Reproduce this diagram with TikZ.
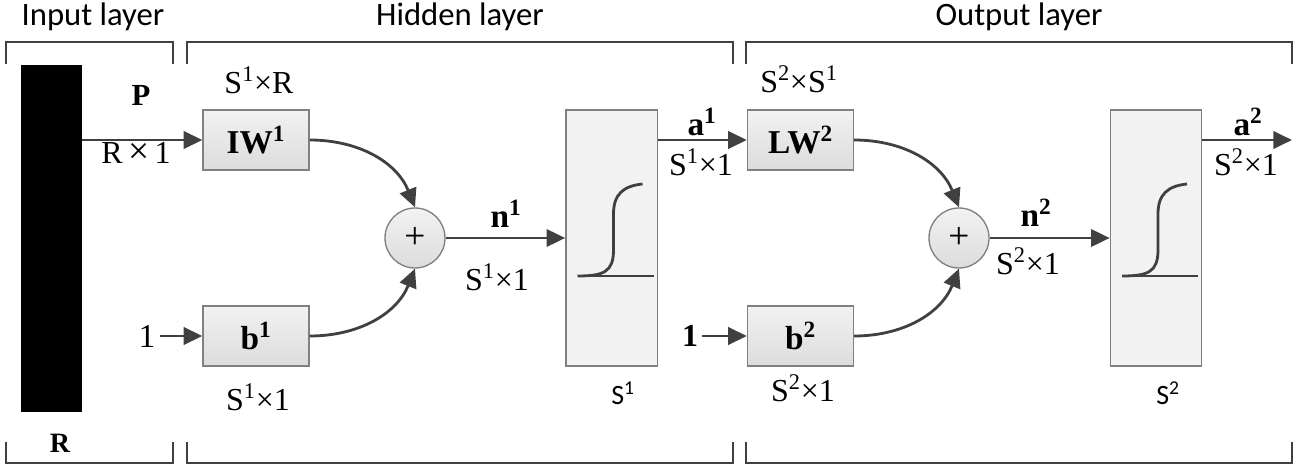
\documentclass[tikz,border=0pt]{standalone}
\usepackage{fontspec}
\setmainfont{Liberation Serif}
\newfontfamily\labfont{Carlito}
\usetikzlibrary{arrows.meta,shapes.geometric}
\definecolor{ln}{HTML}{404040}
\definecolor{bd}{HTML}{808080}
\definecolor{fl}{HTML}{F2F2F2}
\definecolor{fd}{HTML}{DCDCDC}
\begin{document}
\begin{tikzpicture}[x=0.75pt,y=-0.75pt,
  wbox/.style={draw=bd, line width=1pt, top color=fl, bottom color=fd, minimum width=79.5pt, minimum height=45pt, inner sep=0pt, font=\fontsize{25}{28}\selectfont\bfseries},
  tbox/.style={draw=bd, line width=1pt, fill=fl, minimum width=68.5pt, minimum height=192pt, inner sep=0pt},
  sumc/.style={circle, draw=bd, line width=1pt, top color=fl, bottom color=fd, minimum size=45pt, inner sep=0pt, font=\fontsize{28}{30}\selectfont},
  arr/.style={draw=ln, line width=2.1pt, -{Triangle[length=14pt,width=13pt]}},
  brk/.style={draw=ln, line width=2.2pt},
  sig/.style={draw=ln, line width=2.1pt},
  dim/.style={font=\fontsize{24}{28}\selectfont, inner sep=0pt},
  var/.style={font=\fontsize{25}{28}\selectfont\bfseries, inner sep=0pt},
  lay/.style={font=\labfont\fontsize{24.5}{28}\selectfont, inner sep=0pt},
  sdim/.style={font=\labfont\fontsize{21}{24}\selectfont, inner sep=0pt},
  onel/.style={inner xsep=3pt, inner ysep=0pt, font=\fontsize{25}{28}\selectfont}
]
\useasboundingbox (0,0) rectangle (1297,467);

% layer labels
\node[lay] (lin) at (93,17) {Input layer};
\node[lay] (lhid) at (460,17) {Hidden layer};
\node[lay] (lout) at (1019,17) {Output layer};

% brackets
\draw[brk] (6,64) -- (6,42) -- (173,42) -- (173,64);
\draw[brk] (187,64) -- (187,42) -- (733,42) -- (733,64);
\draw[brk] (746,64) -- (746,42) -- (1292,42) -- (1292,64);
\draw[brk] (6,442) -- (6,463) -- (173,463) -- (173,442);
\draw[brk] (187,442) -- (187,463) -- (733,463) -- (733,442);
\draw[brk] (746,442) -- (746,463) -- (1292,463) -- (1292,442);

% input bar
\node[fill=black, minimum width=45.75pt, minimum height=260pt, inner sep=0pt] (bar) at (51.5,238.5) {};
\node[var, font=\fontsize{21}{24}\selectfont\bfseries] (rlab) at (60,443) {R};

% hidden layer
\node[wbox] (iw) at (256,140) {IW\textsuperscript{1}};
\node[wbox] (b1) at (256,336) {b\textsuperscript{1}};
\node[sumc] (sum1) at (415,238) {+};
\node[tbox] (tf1) at (611.5,238) {};
\node[onel] (one1) at (147,336) {1};

\node[var, font=\fontsize{23}{26}\selectfont\bfseries] (plab) at (141,95) {P};
\node[dim] (pdim) at (136,153) {R\,{\fontsize{28}{28}\selectfont×}\,1};
\node[dim] (iwdim) at (259,80) {S\textsuperscript{1}×R};
\node[dim] (b1dim) at (258,397) {S\textsuperscript{1}×1};
\node[var] (n1lab) at (506,214) {n\textsuperscript{1}};
\node[dim] (n1dim) at (497,277) {S\textsuperscript{1}×1};
\node[sdim] (tf1dim) at (623,393) {S\textsuperscript{1}};
\node[var] (a1lab) at (702,122) {a\textsuperscript{1}};
\node[dim] (a1dim) at (701,162) {S\textsuperscript{1}×1};

% output layer
\node[wbox] (lw) at (800.5,140) {LW\textsuperscript{2}};
\node[wbox] (b2) at (800.5,336) {b\textsuperscript{2}};
\node[sumc] (sum2) at (959,238) {+};
\node[tbox] (tf2) at (1156,238) {};
\node[onel, font=\fontsize{24}{28}\selectfont\bfseries] (one2) at (690,336) {1};
\coordinate (out) at (1292,140);

\node[dim] (lwdim) at (799,79) {S\textsuperscript{2}×S\textsuperscript{1}};
\node[dim] (b2dim) at (803,388) {S\textsuperscript{2}×1};
\node[var] (n2lab) at (1036,213) {n\textsuperscript{2}};
\node[dim] (n2dim) at (1028,261) {S\textsuperscript{2}×1};
\node[sdim] (tf2dim) at (1168,393) {S\textsuperscript{2}};
\node[var] (a2lab) at (1248,122) {a\textsuperscript{2}};
\node[dim] (a2dim) at (1246,162) {S\textsuperscript{2}×1};

% transfer curves
\foreach \t in {tf1,tf2}{
  \begin{scope}[shift={(\t.center)}]
    \draw[sig] (-34,38) -- (42,38);
    \draw[sig] (-34,38) .. controls (-8,38) and (2,34) .. (2,12) -- (2,-24) .. controls (2,-44) and (12,-52) .. (31,-54);
  \end{scope}
}

% connectors
\draw[arr] (iw.west -| bar.east) -- (iw.west);
\draw[arr] (one1.east) -- (b1.west);
\draw[arr] (iw.east) to[out=0,in=112] (sum1.north);
\draw[arr] (b1.east) to[out=0,in=-112] (sum1.south);
\draw[arr] (sum1.east) -- (tf1.west);
\draw[arr] (tf1.east |- lw.west) -- (lw.west);
\draw[arr] (one2.east) -- (b2.west);
\draw[arr] (lw.east) to[out=0,in=112] (sum2.north);
\draw[arr] (b2.east) to[out=0,in=-112] (sum2.south);
\draw[arr] (sum2.east) -- (tf2.west);
\draw[arr] (tf2.east |- out) -- (out);
\end{tikzpicture}
\end{document}
